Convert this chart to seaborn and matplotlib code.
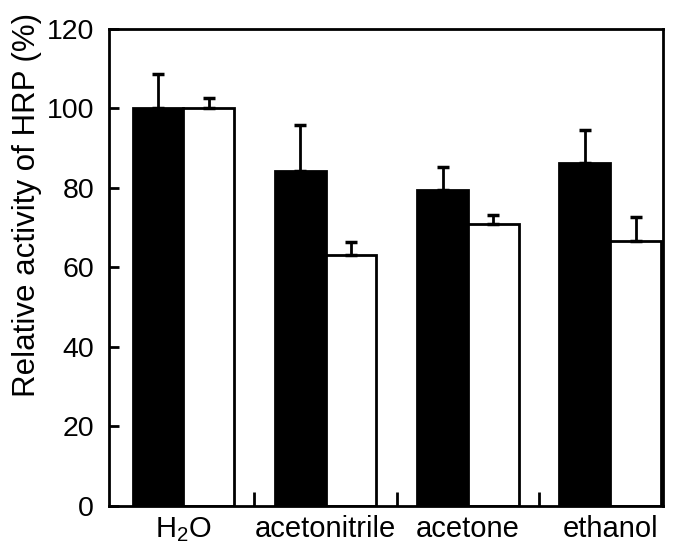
import matplotlib
matplotlib.use("Agg")
import matplotlib.pyplot as plt
import seaborn as sns
import pandas as pd
import numpy as np

solvents = ["H$_2$O", "acetonitrile", "acetone", "ethanol"]
series = ["A", "B"]
values_a = [100.0, 84.3, 79.5, 86.3]
values_b = [100.0, 63.0, 70.8, 66.5]
err_a = [8.6, 11.6, 5.6, 8.2]
err_b = [2.7, 3.4, 2.3, 6.2]

sns.set_theme(style="white")
plt.rcParams["font.family"] = ["Liberation Sans", "DejaVu Sans"]
plt.rcParams["mathtext.default"] = "regular"
plt.rcParams["text.color"] = "black"
plt.rcParams["axes.labelcolor"] = "black"
plt.rcParams["xtick.color"] = "black"
plt.rcParams["ytick.color"] = "black"

df = pd.DataFrame({
    "solvent": solvents * 2,
    "series": [series[0]] * 4 + [series[1]] * 4,
    "value": values_a + values_b,
})

fig = plt.figure(figsize=(6.75, 5.43), dpi=100)
ax = fig.add_axes([0.162, 0.069, 0.820, 0.878])

sns.barplot(data=df, x="solvent", y="value", hue="series", order=solvents,
            hue_order=series, palette=["black", "white"], width=0.714,
            edgecolor="black", linewidth=2, errorbar=None, legend=False,
            saturation=1, ax=ax)

# error bars (upper only), at bar centers
errs = {series[0]: err_a, series[1]: err_b}
vals = {series[0]: values_a, series[1]: values_b}
bar_containers = list(ax.containers)
for ci, cont in enumerate(bar_containers):
    s = series[ci]
    xs = [p.get_x() + p.get_width() / 2 for p in cont.patches]
    ax.errorbar(xs, vals[s], yerr=[np.zeros(len(xs)), errs[s]], fmt="none",
                ecolor="black", elinewidth=2, capsize=4.5, capthick=2.5, zorder=1)

ax.set_ylim(0, 120)
ax.set_xlim(-0.52, 3.37)
ax.set_yticks([0, 20, 40, 60, 80, 100, 120])
ax.set_xticks([0, 1, 2, 3])
ax.set_xticks([0.5, 1.5, 2.5], minor=True)
ax.tick_params(axis="y", which="major", direction="in", length=7, width=2,
               labelsize=20.5, left=True, pad=11, colors="black")
ax.tick_params(axis="x", which="major", length=0, labelsize=21, pad=7, colors="black")
ax.tick_params(axis="x", which="minor", direction="in", length=10, width=2,
               bottom=True, colors="black")
for sp in ax.spines.values():
    sp.set_linewidth(2)
    sp.set_color("black")
ax.set_xlabel("")
ax.set_ylabel("Relative activity of HRP (%)", fontsize=22.5, color="black")
ax.yaxis.set_label_coords(-0.122, 0.631)

fig.savefig("out.png", dpi=100)
